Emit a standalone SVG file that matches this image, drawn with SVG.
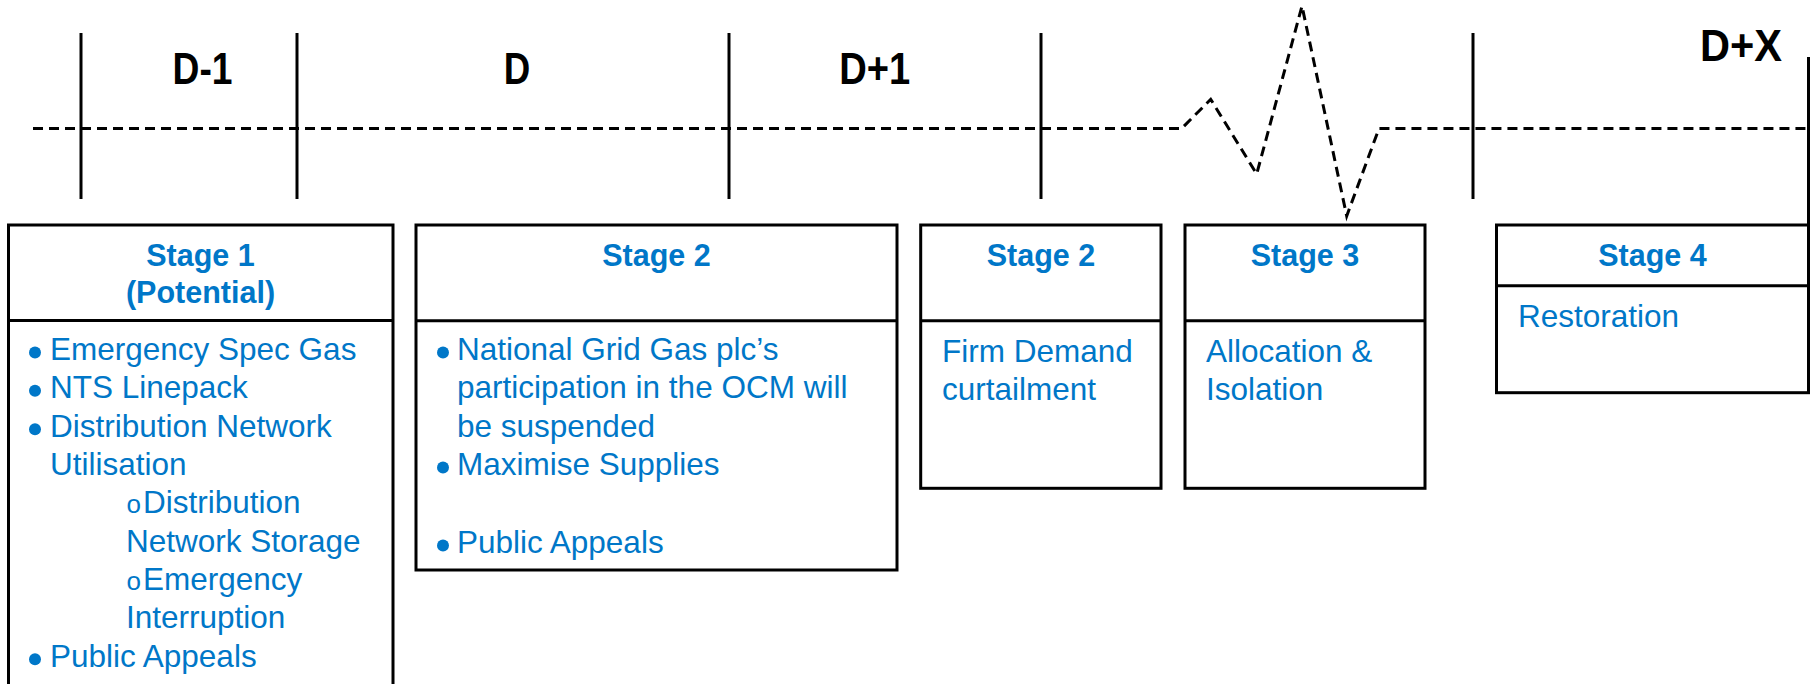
<svg xmlns="http://www.w3.org/2000/svg" width="1814" height="684" viewBox="0 0 1814 684">
<style>
.bg{fill:#ffffff}
.box{fill:#ffffff;stroke:#000;stroke-width:3}
.div{stroke:#000;stroke-width:3}
.tick{stroke:#000;stroke-width:3}
.dash{fill:none;stroke:#000;stroke-width:3;stroke-dasharray:10 6}
.hd{font-family:"Liberation Sans",Arial,sans-serif;font-weight:bold;font-size:44px;fill:#000;text-anchor:middle}
.st{font-family:"Liberation Sans",Arial,sans-serif;font-weight:bold;font-size:30.5px;fill:#0077C8;text-anchor:middle}
.tx{font-family:"Liberation Sans",Arial,sans-serif;font-size:31.5px;fill:#0077C8}
.sub{font-size:26px}
.dot{fill:#0077C8}
</style>
<rect class="bg" x="0" y="0" width="1814" height="684"/>

<g id="timeline">
  <line class="tick" x1="81" y1="33" x2="81" y2="199"/>
  <line class="tick" x1="297" y1="33" x2="297" y2="199"/>
  <line class="tick" x1="729" y1="33" x2="729" y2="199"/>
  <line class="tick" x1="1041" y1="33" x2="1041" y2="199"/>
  <line class="tick" x1="1473" y1="33" x2="1473" y2="199"/>
  <line class="tick" x1="1808.5" y1="57" x2="1808.5" y2="226"/>
  <path class="dash" d="M33 128.5 H1181.7 L1210.7 99.3 L1256.7 174 L1302 6 L1346.7 216 L1379 128.5 H1808"/>
  <text class="hd" x="202.5" y="84.3" textLength="60" lengthAdjust="spacingAndGlyphs">D-1</text>
  <text class="hd" x="517" y="84.3" textLength="26.5" lengthAdjust="spacingAndGlyphs">D</text>
  <text class="hd" x="874.7" y="84.3" textLength="71" lengthAdjust="spacingAndGlyphs">D+1</text>
  <text class="hd" x="1741" y="61" textLength="82" lengthAdjust="spacingAndGlyphs">D+X</text>
</g>

<g id="stage1">
  <rect class="box" x="8.5" y="225" width="384.5" height="470"/>
  <line class="div" x1="8.5" y1="320.5" x2="393" y2="320.5"/>
  <text class="st" x="200.5" y="265.7">Stage 1</text>
  <text class="st" x="200.5" y="303">(Potential)</text>
  <circle class="dot" cx="35" cy="352.5" r="6"/>
  <text class="tx" x="50" y="360">Emergency Spec Gas</text>
  <circle class="dot" cx="35" cy="390.8" r="6"/>
  <text class="tx" x="50" y="398.3">NTS Linepack</text>
  <circle class="dot" cx="35" cy="429.2" r="6"/>
  <text class="tx" x="50" y="436.7">Distribution Network</text>
  <text class="tx" x="50" y="475">Utilisation</text>
  <text class="tx" x="126.5" y="513.3"><tspan class="sub">o</tspan><tspan dx="2">Distribution</tspan></text>
  <text class="tx" x="126" y="551.7">Network Storage</text>
  <text class="tx" x="126.5" y="590"><tspan class="sub">o</tspan><tspan dx="2">Emergency</tspan></text>
  <text class="tx" x="126" y="628.3">Interruption</text>
  <circle class="dot" cx="35" cy="659.2" r="6"/>
  <text class="tx" x="50" y="666.7">Public Appeals</text>
</g>

<g id="stage2a">
  <rect class="box" x="416" y="225" width="481" height="345"/>
  <line class="div" x1="416" y1="320.7" x2="897" y2="320.7"/>
  <text class="st" x="656.5" y="265.7">Stage 2</text>
  <circle class="dot" cx="443" cy="352.5" r="6"/>
  <text class="tx" x="457" y="360">National Grid Gas plc’s</text>
  <text class="tx" x="457" y="398.3">participation in the OCM will</text>
  <text class="tx" x="457" y="436.7">be suspended</text>
  <circle class="dot" cx="443" cy="467.5" r="6"/>
  <text class="tx" x="457" y="475">Maximise Supplies</text>
  <circle class="dot" cx="443" cy="545.5" r="6"/>
  <text class="tx" x="457" y="553">Public Appeals</text>
</g>

<g id="stage2b">
  <rect class="box" x="920.7" y="225" width="240.3" height="263.3"/>
  <line class="div" x1="920.7" y1="320.7" x2="1161" y2="320.7"/>
  <text class="st" x="1041" y="265.7">Stage 2</text>
  <text class="tx" x="942" y="361.5">Firm Demand</text>
  <text class="tx" x="942" y="400">curtailment</text>
</g>

<g id="stage3">
  <rect class="box" x="1185" y="225" width="240" height="263.3"/>
  <line class="div" x1="1185" y1="320.7" x2="1425" y2="320.7"/>
  <text class="st" x="1305" y="265.7">Stage 3</text>
  <text class="tx" x="1206" y="361.5">Allocation &amp;</text>
  <text class="tx" x="1206" y="400">Isolation</text>
</g>

<g id="stage4">
  <rect class="box" x="1496.5" y="225" width="312" height="167.7"/>
  <line class="div" x1="1496.5" y1="285.7" x2="1808.5" y2="285.7"/>
  <text class="st" x="1652.5" y="265.7">Stage 4</text>
  <text class="tx" x="1518" y="326.7">Restoration</text>
</g>
</svg>
